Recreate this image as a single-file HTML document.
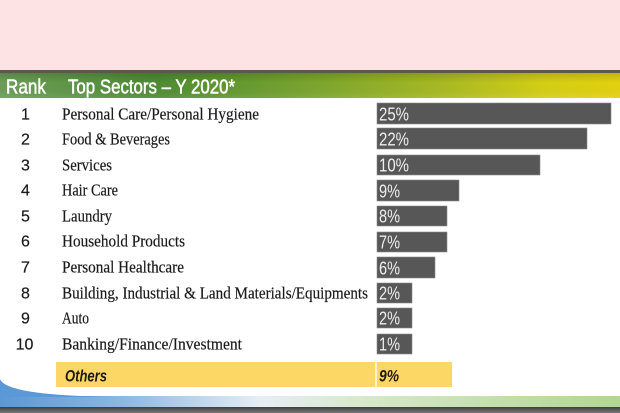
<!DOCTYPE html>
<html><head><meta charset="utf-8"><style>
html,body{margin:0;padding:0;background:#fff;}
svg{display:block;}
</style></head><body>
<svg width="620" height="413" viewBox="0 0 620 413" xmlns="http://www.w3.org/2000/svg">
<defs>
<linearGradient id="hdr" x1="0" x2="1" y1="0" y2="0">
<stop offset="0" stop-color="#6c9e58"/>
<stop offset="0.25" stop-color="#4e8c34"/>
<stop offset="0.5" stop-color="#7aa52e"/>
<stop offset="0.72" stop-color="#aabb22"/>
<stop offset="0.88" stop-color="#d6cf14"/>
<stop offset="1" stop-color="#e4d20e"/>
</linearGradient>
<linearGradient id="hdrv" x1="0" x2="0" y1="0" y2="1">
<stop offset="0" stop-color="#000" stop-opacity="0.15"/>
<stop offset="0.4" stop-color="#000" stop-opacity="0"/>
<stop offset="1" stop-color="#fff" stop-opacity="0.08"/>
</linearGradient>
<linearGradient id="band" x1="0" x2="1" y1="0" y2="0">
<stop offset="0" stop-color="#5a98d6"/>
<stop offset="0.2" stop-color="#8db8e2"/>
<stop offset="0.42" stop-color="#e6eef4"/>
<stop offset="0.6" stop-color="#d6e8c8"/>
<stop offset="1" stop-color="#b2d693"/>
</linearGradient>
<linearGradient id="btm" x1="0" x2="0" y1="0" y2="1">
<stop offset="0" stop-color="#3e3e3e"/>
<stop offset="1" stop-color="#7a7a7a"/>
</linearGradient>
</defs>
<rect x="0" y="0" width="620" height="71" fill="#fde3e3"/>
<rect x="0" y="70" width="620" height="3" fill="#5a5a4a"/>
<rect x="0" y="73" width="620" height="25" fill="url(#hdr)"/>
<rect x="0" y="73" width="620" height="25" fill="url(#hdrv)"/>
<g font-family="Liberation Sans, sans-serif" font-size="20" fill="#fff" stroke="#fff" stroke-width="0.5">
<text x="6" y="93.5" textLength="40" lengthAdjust="spacingAndGlyphs">Rank</text>
<text x="68" y="93.5" textLength="167" lengthAdjust="spacingAndGlyphs">Top Sectors – Y 2020*</text>
</g>
<g fill="#575757" stroke="#8a8a8a" stroke-width="0.6">
<rect x="377" y="103" width="234" height="21"/>
<rect x="377" y="128" width="210" height="21"/>
<rect x="377" y="155" width="163" height="20"/>
<rect x="377" y="180" width="82" height="21"/>
<rect x="377" y="206" width="70" height="20"/>
<rect x="377" y="232" width="70" height="20"/>
<rect x="377" y="257" width="58" height="21"/>
<rect x="377" y="283" width="35" height="20"/>
<rect x="377" y="308" width="35" height="20"/>
<rect x="377" y="334" width="35" height="20"/>
</g>
<g font-family="Liberation Sans, sans-serif" font-size="18" fill="#eeeeee">
<text x="379" y="120.5" textLength="30" lengthAdjust="spacingAndGlyphs">25%</text>
<text x="379" y="145.5" textLength="30" lengthAdjust="spacingAndGlyphs">22%</text>
<text x="379" y="171.5" textLength="30" lengthAdjust="spacingAndGlyphs">10%</text>
<text x="379" y="197.5" textLength="21" lengthAdjust="spacingAndGlyphs">9%</text>
<text x="379" y="222.5" textLength="21" lengthAdjust="spacingAndGlyphs">8%</text>
<text x="379" y="248.5" textLength="21" lengthAdjust="spacingAndGlyphs">7%</text>
<text x="379" y="274.5" textLength="21" lengthAdjust="spacingAndGlyphs">6%</text>
<text x="379" y="299.5" textLength="21" lengthAdjust="spacingAndGlyphs">2%</text>
<text x="379" y="324.5" textLength="21" lengthAdjust="spacingAndGlyphs">2%</text>
<text x="379" y="350.5" textLength="21" lengthAdjust="spacingAndGlyphs">1%</text>
</g>
<g font-family="Liberation Sans, sans-serif" font-size="16" fill="#1a1a1a" text-anchor="middle" stroke="#1a1a1a" stroke-width="0.2">
<text x="25.5" y="119.5">1</text>
<text x="25.5" y="144.5">2</text>
<text x="25.5" y="170.5">3</text>
<text x="25.5" y="195.5">4</text>
<text x="25.5" y="221.5">5</text>
<text x="25.5" y="246.5">6</text>
<text x="25.5" y="272.5">7</text>
<text x="25.5" y="298.5">8</text>
<text x="25.5" y="323.5">9</text>
<text x="24.5" y="349.5">10</text>
</g>
<g font-family="Liberation Serif, serif" font-size="17" fill="#1a1a1a" stroke="#1a1a1a" stroke-width="0.2">
<text x="62" y="119.5" textLength="197" lengthAdjust="spacingAndGlyphs">Personal Care/Personal Hygiene</text>
<text x="62" y="144.5" textLength="108" lengthAdjust="spacingAndGlyphs">Food &amp; Beverages</text>
<text x="62" y="170.5" textLength="50" lengthAdjust="spacingAndGlyphs">Services</text>
<text x="62" y="195.5" textLength="56" lengthAdjust="spacingAndGlyphs">Hair Care</text>
<text x="62" y="221.5" textLength="50" lengthAdjust="spacingAndGlyphs">Laundry</text>
<text x="62" y="246.5" textLength="123" lengthAdjust="spacingAndGlyphs">Household Products</text>
<text x="62" y="272.5" textLength="122" lengthAdjust="spacingAndGlyphs">Personal Healthcare</text>
<text x="62" y="298.5" textLength="306" lengthAdjust="spacingAndGlyphs">Building, Industrial &amp; Land Materials/Equipments</text>
<text x="62" y="323.5" textLength="27" lengthAdjust="spacingAndGlyphs">Auto</text>
<text x="62" y="349.5" textLength="180" lengthAdjust="spacingAndGlyphs">Banking/Finance/Investment</text>
</g>
<rect x="56" y="362" width="396" height="25" fill="#fdd766"/>
<rect x="375" y="362" width="2" height="25" fill="#fff3d0"/>
<g font-family="Liberation Sans, sans-serif" font-size="17" font-weight="bold" font-style="italic" fill="#1e1a10">
<text x="65" y="381.5" textLength="42" lengthAdjust="spacingAndGlyphs">Others</text>
<text x="379" y="381.5" textLength="20" lengthAdjust="spacingAndGlyphs">9%</text>
</g>
<rect x="0" y="396" width="620" height="11" fill="url(#band)"/>
<path d="M0,379 Q6,396 120,397 L0,397 Z" fill="#5a98d6"/>
<rect x="0" y="407" width="620" height="6" fill="url(#btm)"/>
</svg>
</body></html>
